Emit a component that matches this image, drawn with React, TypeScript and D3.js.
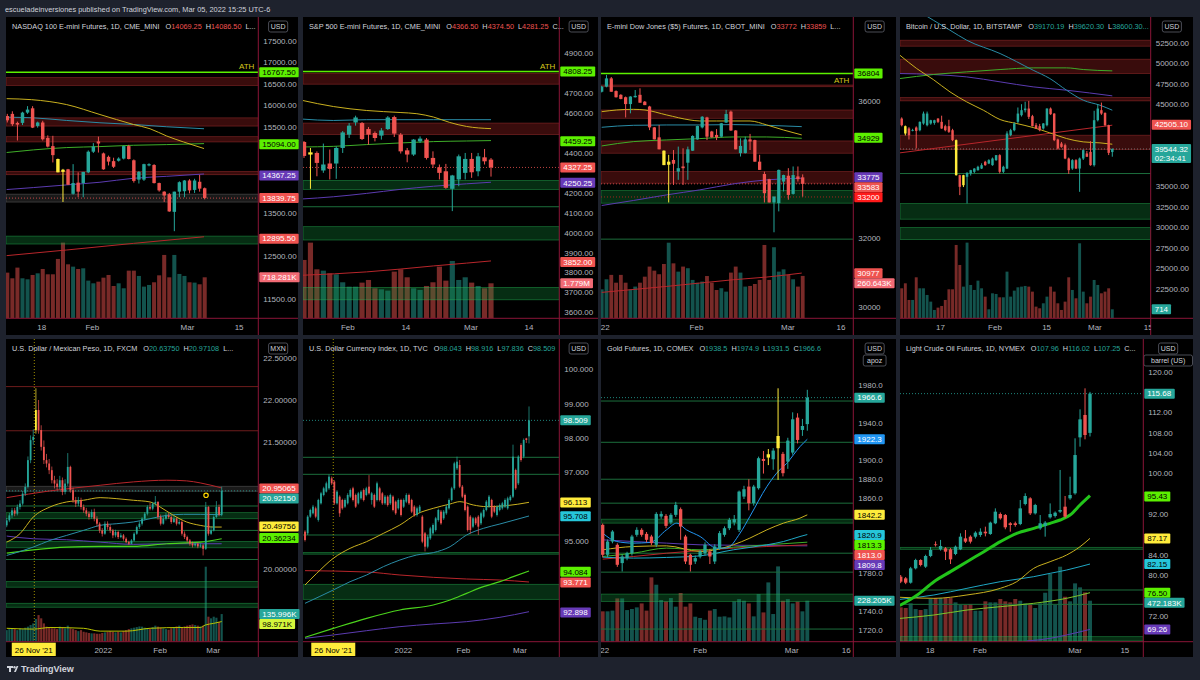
import React from 'react';
import * as d3 from 'd3';

type Candle = [number, number, number, number];
type Pt = [number, number];
type Tag = [number, string, string, string, string];

const TEAL = '#26a69a';
const RED = '#ef5350';
const HIGHLIGHT = '#ffeb3b';
const MA_Y = '#c9b01f';
const MA_T = '#2a8ca6';
const MA_G = '#3fae29';
const MA_P = '#5b3bb0';
const MA_R = '#b8262b';
const MA_B = '#2196f3';
const MA_C = '#1fa7c4';
const MA_LG = '#7cc62b';
const PAGE_BG = '#1e222d';
const AXIS_LINE = '#8a1538';

// ================= NASDAQ 100 =================
const nqCandles: Candle[] = [
  [15750, 15800, 15600, 15650], [15800, 15860, 15520, 15560], [15590, 15620, 15180, 15550], [15590, 15850, 15540, 15830],
  [15830, 15980, 15800, 15900], [15930, 15980, 15470, 15480], [15520, 15620, 15480, 15600], [15600, 15640, 15180, 15210],
  [15240, 15300, 15020, 15040], [15050, 15290, 14670, 14840], [14750, 14760, 14440, 14440], [14500, 14520, 13750, 14450],
  [14510, 14520, 14150, 14150], [13940, 14630, 13920, 14190], [14200, 14440, 13860, 13990], [14190, 14450, 13860, 14450],
  [14440, 14950, 14420, 14920], [14920, 15120, 14890, 15040], [15160, 15270, 14900, 15110], [14880, 14900, 14500, 14510],
  [14800, 14830, 14600, 14690], [14700, 14780, 14540, 14570], [14710, 14790, 14690, 14760], [14760, 15060, 14740, 15050],
  [15050, 15080, 14740, 14750], [14720, 14740, 14200, 14240], [14270, 14470, 14180, 14450], [14270, 14640, 14240, 14630],
  [14600, 14650, 14580, 14630], [14610, 14630, 14180, 14190], [14190, 14200, 13990, 14020], [13990, 14000, 13750, 13900],
  [13930, 13960, 13520, 13530], [13520, 13990, 13070, 13990], [13990, 14230, 13860, 14210], [14000, 14260, 13860, 14250],
  [14250, 14280, 13950, 14020], [14030, 14290, 13960, 14250], [14220, 14380, 13990, 14060], [14069.25, 14086.5, 13810, 13839.75],
];
const nqVolume = [800, 701, 888, 701, 683, 759, 788, 864, 771, 771, 1040, 1326, 946, 905, 864, 876, 660, 613, 642, 712,
  759, 566, 613, 526, 835, 835, 742, 555, 584, 631, 753, 1110, 718, 1110, 777, 742, 631, 625, 596, 718.281];
const nqHighlight = [10, 11];
const nqTicks = [11500, 12000, 12500, 13000, 13500, 14000, 14500, 15000, 15500, 16000, 16500, 17000, 17500, 18000];
const nqTimes: [number, string][] = [[6.8, '18'], [16.8, 'Feb'], [35.6, 'Mar'], [45.8, '15']];
const nqMaYellow: Pt[] = [[-0.13, 16154], [4.8, 16131], [11.73, 16016], [18.31, 15785], [24.9, 15554], [28.2, 15454], [31.49, 15285], [34.8, 15147], [38.87, 14993]];
const nqMaTeal: Pt[] = [[-0.13, 15723], [5.14, 15708], [11.73, 15647], [18.31, 15593], [24.9, 15554], [31.49, 15500], [38.87, 15454]];
const nqMaGreen: Pt[] = [[-0.13, 14901], [5.14, 14962], [11.73, 15016], [18.31, 15039], [24.9, 15070], [31.49, 15085], [38.87, 15108]];
const nqMaPurple: Pt[] = [[-0.13, 14039], [5.14, 14085], [11.73, 14147], [18.31, 14209], [24.9, 14301], [31.49, 14347], [38.87, 14401]];
const nqMaRed: Pt[] = [[-0.13, 12501], [11.73, 12632], [24.9, 12786], [38.87, 12940]];
const nqRedBands: Pt[] = [[16462, 16646], [15516, 15708], [15147, 15270], [14385, 14462]];
const nqGreenBands: Pt[] = [[12771, 12955]];
const nqGreyBands: Pt[] = [[13747, 13932]];
const nqTags: Tag[] = [
  [16767.5, '16767.50', 'lime', 'p', ''], [15094, '15094.00', 'lime', 'p', ''], [14367.25, '14367.25', 'purple', 'p', ''],
  [13839.75, '13839.75', 'red', 'p', ''], [12895.5, '12895.50', 'red', 'p', ''], [718.281, '718.281K', 'lightred', 'v', ''],
];
const nqHeader: [string, string][] = [['O', '14069.25'], ['H', '14086.50'], ['L...', '']];

// ================= S&P 500 =================
const esCandles: Candle[] = [
  [4455, 4460, 4375, 4385], [4403, 4425, 4220, 4392], [4400, 4408, 4283, 4350], [4312, 4447, 4300, 4342], [4347, 4417, 4267, 4320],
  [4347, 4433, 4270, 4425], [4425, 4510, 4400, 4503], [4492, 4550, 4475, 4537], [4553, 4587, 4537, 4578], [4550, 4555, 4465, 4470],
  [4520, 4530, 4442, 4492], [4500, 4508, 4458, 4475], [4487, 4525, 4467, 4513], [4520, 4585, 4515, 4578], [4580, 4587, 4480, 4497],
  [4492, 4500, 4397, 4408], [4413, 4425, 4353, 4392], [4392, 4470, 4385, 4467], [4458, 4483, 4450, 4472], [4467, 4475, 4367, 4375],
  [4375, 4408, 4325, 4342], [4328, 4342, 4267, 4300], [4308, 4345, 4220, 4225], [4220, 4290, 4108, 4287], [4267, 4392, 4233, 4383],
  [4300, 4400, 4267, 4370], [4370, 4400, 4275, 4303], [4308, 4400, 4283, 4383], [4378, 4420, 4342, 4358], [4366.5, 4374.5, 4281.25, 4327.25],
];
const esVolume = [2965, 3845, 2490, 2422, 2287, 2236, 1830, 1609, 1609, 1813, 1948, 1525, 1474, 1406, 2372, 2490, 2084, 1525, 1440, 1643,
  1830, 2626, 1914, 2914, 1948, 2084, 1813, 1643, 1525, 1779];
const esHighlight = [1];
const esTicks = [3600, 3700, 3800, 3900, 4000, 4100, 4200, 4300, 4400, 4500, 4600, 4700, 4800, 4900, 5000];
const esTimes: [number, string][] = [[6.8, 'Feb'], [15.8, '14'], [25.9, 'Mar'], [34.9, '14']];
const esMaYellow: Pt[] = [[-0.3, 4664], [4.55, 4633], [9.72, 4613], [14.9, 4603], [17.5, 4597], [20.1, 4580], [22.6, 4553], [25.2, 4533], [29, 4522]];
const esMaTeal: Pt[] = [[-0.3, 4570], [4.55, 4563], [9.72, 4567], [20.1, 4567], [29, 4567]];
const esMaGreen: Pt[] = [[-0.3, 4430], [4.55, 4433], [9.72, 4442], [14.9, 4450], [20.1, 4457], [25.2, 4460], [29, 4462]];
const esMaPurple: Pt[] = [[-0.3, 4169], [4.55, 4180], [9.72, 4197], [14.9, 4217], [20.1, 4233], [25.2, 4245], [29, 4253]];
const esMaRed: Pt[] = [[-0.3, 3786], [9.72, 3803], [14.9, 3817], [20.1, 3833], [25.2, 3847], [29, 3858]];
const esRedBands: Pt[] = [[4745, 4800], [4492, 4550]];
const esGreenBands: Pt[] = [[4217, 4262], [3963, 4030], [3663, 3725]];
const esGreenLines = [4130];
const esTags: Tag[] = [
  [4808.25, '4808.25', 'lime', 'p', ''], [4459.25, '4459.25', 'lime', 'p', ''], [4327.25, '4327.25', 'red', 'p', ''],
  [4250.25, '4250.25', 'purple', 'p', ''], [3852, '3852.00', 'red', 'p', ''], [1779, '1.779M', 'lightred', 'v', ''],
];
const esHeader: [string, string][] = [['O', '4366.50'], ['H', '4374.50'], ['L', '4281.25'], ['C...', '']];

// ================= Dow Jones =================
const ymCandles: Candle[] = [
  [36270, 36440, 36250, 36420], [36420, 36760, 36400, 36660], [36660, 36700, 36270, 36270], [36290, 36310, 36100, 36110],
  [36180, 36200, 36050, 36060], [36110, 36130, 35520, 35910], [35910, 36140, 35640, 36130], [36110, 36320, 36100, 36150],
  [36180, 36370, 35950, 35950], [35980, 36000, 35880, 35880], [35840, 35860, 35150, 35230], [35230, 35240, 34880, 34880],
  [34940, 35300, 34590, 34590], [34550, 34560, 34130, 34130], [34140, 34430, 33040, 34230], [34280, 34570, 33550, 34170],
  [33940, 34670, 33700, 34040], [34090, 34620, 33550, 34040], [34200, 34670, 33700, 34590], [34550, 35000, 34540, 34980],
  [34880, 35280, 34870, 35270], [35230, 35560, 35200, 35540], [35520, 35540, 34860, 34960], [35110, 35130, 34930, 34940],
  [35010, 35180, 34860, 34940], [34960, 35360, 34940, 35350], [35370, 35740, 35360, 35620], [35690, 35720, 35130, 35140],
  [35140, 35150, 34590, 34590], [34480, 34910, 34380, 34690], [34480, 34960, 34470, 34880], [34880, 35040, 34570, 34820],
  [34860, 34870, 34230, 34230], [34230, 34430, 33990, 33990], [33870, 33940, 33040, 33310], [33720, 33730, 33040, 33040],
  [33040, 33220, 32170, 33210], [33020, 34000, 32780, 33990], [33650, 33850, 33360, 33840], [33820, 34040, 33120, 33260],
  [33290, 34090, 33270, 33840], [33800, 34090, 33650, 33720], [33772, 33859, 33210, 33583],
];
const ymVolume = [178, 240, 267, 219, 267, 219, 178, 195, 219, 256, 318, 293, 271, 334, 465, 338, 287, 318, 308, 236,
  219, 226, 260, 219, 174, 185, 164, 281, 318, 281, 195, 199, 211, 236, 451, 236, 437, 287, 301, 267, 240, 195, 260.643];
const ymHighlight = [13, 14];
const ymTicks = [30000, 31000, 32000, 33000, 34000, 35000, 36000, 37000, 38000];
const ymTimes: [number, string][] = [[-0.2, '2022'], [19.8, 'Feb'], [38.9, 'Mar'], [50, '16']];
const ymMaYellow: Pt[] = [[0, 35689], [3.13, 35738], [6.6, 35757], [9.05, 35738], [13.6, 35592], [18.45, 35447], [20.5, 35417], [24, 35417], [31, 35417], [34.5, 35301], [37.95, 35155], [41.8, 35010]];
const ymMaTeal: Pt[] = [[0, 35233], [6.6, 35291], [13.6, 35301], [20.5, 35301], [27.5, 35311], [34.5, 35291], [41.8, 35252]];
const ymMaGreen: Pt[] = [[0, 34689], [6.6, 34815], [13.6, 34864], [20.5, 34903], [27.5, 34951], [34.5, 34951], [41.8, 34912]];
const ymMaPurple: Pt[] = [[0, 32951], [6.6, 33097], [13.6, 33262], [20.5, 33407], [27.5, 33582], [34.5, 33699], [41.8, 33747]];
const ymMaRed: Pt[] = [[0, 30417], [13.6, 30592], [20.5, 30689], [27.5, 30786], [34.5, 30864], [41.8, 30980]];
const ymRedBands: Pt[] = [[36417, 36466], [35495, 35738], [34476, 34835], [33602, 33942]];
const ymGreenBands: Pt[] = [[33019, 33388]];
const ymGreenLines = [31970];
const ymDashed = [33200];
const ymTags: Tag[] = [
  [36804, '36804', 'lime', 'p', ''], [34929, '34929', 'lime', 'p', ''], [33775, '33775', 'purple', 'p', ''],
  [33583, '33583', 'red', 'p', ''], [33200, '33200', 'brightred', 'p', ''], [30977, '30977', 'red', 'p', ''],
  [260.643, '260.643K', 'lightred', 'v', ''],
];
const ymHeader: [string, string][] = [['O', '33772'], ['H', '33859'], ['L...', '']];

// ================= Bitcoin =================
const btcCandles: Candle[] = [
  [43250, 43400, 42300, 42440], [42320, 42400, 41200, 41430], [42040, 42200, 40700, 41220], [41750, 42000, 41700, 41830],
  [42160, 42300, 39600, 41750], [41830, 42900, 41700, 42850], [42650, 44100, 42500, 43860], [42440, 44100, 42300, 43860],
  [42650, 43100, 42500, 43050], [42720, 43100, 42500, 43050], [43250, 43300, 42700, 42850], [42850, 43600, 42000, 42040],
  [42320, 42500, 41700, 41830], [42320, 43100, 41500, 41630], [41830, 42000, 40500, 40620], [40620, 40700, 36300, 36350],
  [36350, 36400, 33920, 34930], [35130, 36400, 34900, 36350], [36150, 36700, 32900, 36640], [36560, 37000, 36300, 36960],
  [36760, 37200, 36600, 37160], [36960, 37500, 36900, 37370], [37160, 37800, 37100, 37570], [37980, 38100, 37500, 37570],
  [37770, 38300, 37700, 38180], [37570, 38500, 37500, 38380], [38180, 38800, 38100, 38790], [38790, 38900, 36560, 36760],
  [36760, 37500, 36600, 37370], [37160, 41700, 37100, 41430], [41230, 42000, 41100, 41830], [41830, 42800, 41700, 42650],
  [42850, 44600, 42700, 43860], [43660, 45000, 43500, 44270], [44270, 45300, 44000, 44470], [44470, 45400, 43200, 43460],
  [43540, 43700, 42300, 42320], [42440, 42700, 42000, 42040], [42320, 42600, 41700, 41830], [42040, 42700, 41900, 42650],
  [42440, 44500, 42300, 44470], [44470, 44600, 43700, 43780], [43860, 43900, 40500, 40620], [40700, 40800, 39500, 39600],
  [40210, 40400, 39700, 39800], [40010, 40200, 38300, 38380], [38380, 38500, 36500, 36960], [37160, 38300, 37000, 38180],
  [38180, 38300, 37100, 37160], [37160, 38500, 34320, 38380], [38380, 39500, 38200, 39400], [39000, 39300, 38600, 38590],
  [39190, 40500, 37500, 37570], [37570, 44200, 37400, 43050], [43050, 45000, 42900, 44470], [44270, 45200, 43700, 43860],
  [43940, 44000, 42300, 42440], [42440, 42500, 38800, 39070], [39170.19, 39620.3, 38600.3, 39544.32],
];
const btcVolume = [2376, 2772, 1452, 1452, 3247, 2376, 2376, 1848, 1320, 660, 845, 977, 1452, 2297, 2297, 5808, 4224, 2508, 5993, 2640,
  2244, 2983, 2376, 1716, 713, 1980, 1927, 1663, 1663, 3696, 1716, 2191, 2455, 2508, 2561, 2508, 2112, 924, 792, 1188,
  1716, 2508, 2112, 1188, 660, 1320, 3247, 2244, 1584, 5940, 2112, 1188, 1716, 3036, 2640, 1980, 2112, 2376, 714];
const btcHighlight = [1, 15, 17];
const btcTicks = [20000, 22500, 25000, 27500, 30000, 32500, 35000, 37500, 40000, 42500, 45000, 47500, 50000, 52500, 55000];
const btcTimes: [number, string][] = [[10.7, '17'], [25.7, 'Feb'], [39.9, '15'], [53.2, 'Mar'], [67.9, '15']];
const btcMaYellow: Pt[] = [[-0.5, 50972], [4.13, 49347], [8.7, 48006], [13.3, 46503], [17.9, 45284], [22.5, 44269], [27.1, 43131], [31.7, 42644], [36.2, 42156], [40.8, 41506], [45.4, 40816], [50, 40409], [54.6, 40288], [58, 40125]];
const btcMaTeal: Pt[] = [[4, 56500], [8.7, 55240], [13.3, 54019], [17.9, 52800], [27.1, 51175], [36.2, 49144], [40.8, 48128], [45.4, 46706], [50, 45488], [54.6, 44878], [58, 44269]];
const btcMaGreen: Pt[] = [[-0.5, 48128], [8.7, 48616], [17.9, 48941], [27.1, 49225], [36.2, 49428], [45.4, 49428], [50, 49225], [58, 49063]];
const btcMaPurple: Pt[] = [[-0.5, 48738], [8.7, 48616], [17.9, 48331], [27.1, 47722], [36.2, 47113], [45.4, 46706], [58, 46016]];
const btcTrendRed: Pt[] = [[-0.5, 39069], [58, 42441]];
const btcRedBands: Pt[] = [[52069, 52800], [48738, 50484], [45406, 45813], [39475, 41222]];
const btcGreenBands: Pt[] = [[30984, 32894], [28506, 29969]];
const btcGreenLines = [36550];
const btcTags: Tag[] = [
  [42505.1, '42505.10', 'red', 'p', ''], [39544.32, '39544.32', 'teal', 'p', '02:34:41'], [714, '714', 'teal', 'v', ''],
];
const btcHeader: [string, string][] = [['O', '39170.19'], ['H', '39620.30'], ['L', '38600.30...']];

// ================= USD/MXN =================
const mxnCandles: Candle[] = [
  [20.512, 20.60, 20.49, 20.571], [20.571, 20.66, 20.55, 20.631], [20.631, 20.72, 20.60, 20.690], [20.690, 20.72, 20.62, 20.651],
  [20.651, 20.76, 20.63, 20.730], [20.730, 20.81, 20.70, 20.770], [20.770, 20.92, 20.75, 20.889], [20.889, 21.01, 20.86, 20.968],
  [20.968, 21.33, 20.95, 21.286], [21.286, 21.58, 21.25, 21.524], [21.524, 21.65, 21.47, 21.563], [21.643, 22.139, 21.60, 21.881],
  [21.881, 22.00, 21.60, 21.643], [21.643, 21.70, 21.40, 21.444], [21.444, 21.52, 21.24, 21.286], [21.286, 21.36, 21.20, 21.246],
  [21.246, 21.30, 21.12, 21.167], [21.167, 21.21, 21.01, 21.048], [21.048, 21.10, 20.95, 21.008], [21.008, 21.06, 20.93, 20.968],
  [20.968, 21.10, 20.94, 21.048], [21.048, 21.08, 20.87, 20.909], [20.909, 21.06, 20.88, 21.008], [21.008, 21.37, 20.98, 21.206],
  [21.206, 21.22, 20.90, 20.929], [20.929, 20.96, 20.78, 20.810], [20.810, 20.85, 20.73, 20.770], [20.770, 20.85, 20.74, 20.810],
  [20.810, 20.84, 20.70, 20.730], [20.730, 20.76, 20.66, 20.690], [20.690, 20.72, 20.62, 20.651], [20.651, 20.68, 20.58, 20.611],
  [20.611, 20.70, 20.59, 20.671], [20.671, 20.71, 20.56, 20.591], [20.591, 20.62, 20.50, 20.532], [20.532, 20.55, 20.42, 20.452],
  [20.452, 20.48, 20.38, 20.413], [20.413, 20.56, 20.40, 20.532], [20.532, 20.56, 20.46, 20.492], [20.492, 20.52, 20.42, 20.452],
  [20.452, 20.47, 20.36, 20.393], [20.393, 20.46, 20.37, 20.433], [20.433, 20.45, 20.35, 20.373], [20.373, 20.42, 20.36, 20.393],
  [20.393, 20.41, 20.33, 20.353], [20.353, 20.37, 20.30, 20.313], [20.313, 20.33, 20.28, 20.294], [20.294, 20.35, 20.29, 20.333],
  [20.333, 20.43, 20.32, 20.413], [20.413, 20.51, 20.40, 20.492], [20.492, 20.56, 20.47, 20.532], [20.532, 20.61, 20.51, 20.591],
  [20.591, 20.67, 20.57, 20.651], [20.651, 20.75, 20.63, 20.730], [20.730, 20.78, 20.69, 20.710], [20.710, 20.79, 20.69, 20.770],
  [20.770, 20.86, 20.75, 20.790], [20.790, 20.80, 20.58, 20.611], [20.611, 20.64, 20.51, 20.532], [20.532, 20.62, 20.52, 20.591],
  [20.591, 20.66, 20.57, 20.631], [20.631, 20.66, 20.59, 20.611], [20.611, 20.63, 20.53, 20.552], [20.552, 20.62, 20.54, 20.591],
  [20.591, 20.61, 20.51, 20.532], [20.532, 20.58, 20.52, 20.552], [20.552, 20.57, 20.39, 20.413], [20.413, 20.44, 20.35, 20.373],
  [20.373, 20.39, 20.31, 20.333], [20.333, 20.35, 20.27, 20.294], [20.294, 20.32, 20.25, 20.274], [20.274, 20.31, 20.26, 20.294],
  [20.294, 20.31, 20.24, 20.262], [20.262, 20.30, 20.25, 20.274], [20.274, 20.29, 20.155, 20.234], [20.234, 20.79, 20.22, 20.730],
  [20.730, 20.74, 20.39, 20.413], [20.413, 20.50, 20.40, 20.452], [20.452, 20.63, 20.44, 20.611], [20.611, 20.80, 20.60, 20.730],
  [20.730, 20.76, 20.62, 20.639], [20.6375, 20.97108, 20.62, 20.9215],
];
const mxnVolume = [57, 62, 66, 62, 57, 66, 62, 69, 74, 82, 90, 112, 131, 115, 90, 74, 69, 66, 66, 62, 74, 69, 66, 79,
  66, 62, 57, 52, 57, 49, 46, 43, 41, 41, 39, 39, 43, 46, 49, 52, 49, 46, 49, 46, 52, 57, 62, 66,
  69, 72, 75, 74, 69, 66, 62, 72, 79, 74, 69, 66, 62, 59, 66, 72, 75, 79, 72, 75, 79, 82, 85, 82, 79, 75,
  79, 369, 123, 115, 123, 118, 98, 135.996];
const mxnVolumeMa: Pt[] = [[0, 66], [10, 62], [16.3, 70], [28.9, 66], [35.2, 52], [45.2, 52], [54, 66], [66.6, 70], [72.9, 70], [74.8, 82], [77.9, 90], [81, 99]];
const mxnHighlight = [11];
const mxnTicks = [19.5, 20, 20.5, 21, 21.5, 22, 22.5];
const mxnTimes: [number, string][] = [[36.4, '2022'], [57.8, 'Feb'], [77.8, 'Mar']];
const mxnDateBox: [number, string] = [10.2, "26 Nov '21"];
const mxnMarkerIdx = 10.4;
const mxnFlag: Pt = [75.1, 20.869];
const mxnMaRed: Pt[] = [[0, 20.841], [16.3, 20.921], [35.2, 20.988], [47.7, 21.028], [60.3, 21.048], [67.8, 21.040], [72.9, 21.016], [81, 20.956]];
const mxnMaYellow: Pt[] = [[0, 20.313], [5, 20.413], [10, 20.611], [16.3, 20.730], [22.6, 20.790], [28.9, 20.810], [35.2, 20.841], [41.5, 20.829], [47.7, 20.810], [54, 20.790], [57.8, 20.730], [62.8, 20.631], [67.8, 20.552], [72.9, 20.512], [77.9, 20.492], [81, 20.492]];
const mxnMaTeal: Pt[] = [[0, 20.155], [10, 20.254], [16.3, 20.333], [22.6, 20.393], [28.9, 20.452], [35.2, 20.512], [41.5, 20.532], [47.7, 20.552], [54, 20.591], [60.3, 20.631], [66.6, 20.643], [72.9, 20.643], [81, 20.639]];
const mxnMaPurple: Pt[] = [[0, 20.385], [10, 20.353], [22.6, 20.341], [35.2, 20.313], [47.7, 20.286], [60.3, 20.294], [72.9, 20.294], [81, 20.294]];
const mxnMaGreen: Pt[] = [[0, 20.183], [10, 20.222], [22.6, 20.254], [35.2, 20.262], [47.7, 20.262], [60.3, 20.294], [72.9, 20.313], [81, 20.353]];
const mxnRedLines = [22.159, 21.635];
const mxnGreyBands: Pt[] = [[20.917, 20.976]];
const mxnGreenLines = [20.742, 20.452, 20.107];
const mxnGreenBands: Pt[] = [[20.591, 20.663], [20.246, 20.321], [19.778, 19.845], [19.540, 19.587]];
const mxnTags: Tag[] = [
  [20.95065, '20.95065', 'red', 'p', ''], [20.9215, '20.92150', 'teal', 'p', ''], [20.49756, '20.49756', 'yellow', 'p', ''],
  [20.36234, '20.36234', 'lime', 'p', ''], [135.996, '135.996K', 'teal', 'v', ''], [98.971, '98.971K', 'ygreen', 'v', ''],
];
const mxnHeader: [string, string][] = [['O', '20.63750'], ['H', '20.97108'], ['L...', '']];

// ================= DXY =================
const dxyCandles: Candle[] = [
  [95.258, 95.30, 94.97, 95.015], [95.209, 95.74, 95.16, 95.697], [95.697, 95.93, 95.66, 95.891], [95.794, 96.04, 95.76, 95.989],
  [95.940, 95.99, 95.65, 95.697], [95.599, 96.22, 95.55, 96.183], [96.086, 96.42, 96.05, 96.378], [96.329, 96.57, 96.29, 96.524],
  [96.427, 96.72, 96.40, 96.670], [96.524, 96.93, 96.48, 96.865], [96.816, 96.87, 96.62, 96.670], [96.719, 96.76, 96.04, 96.086],
  [96.086, 96.47, 96.05, 96.427], [96.281, 96.32, 95.69, 95.794], [96.183, 96.22, 95.90, 95.940], [95.989, 96.23, 95.95, 96.183],
  [96.086, 96.38, 96.05, 96.329], [96.281, 96.52, 96.24, 96.475], [96.524, 96.57, 96.14, 96.183], [96.329, 96.37, 95.95, 95.989],
  [96.086, 96.42, 96.05, 96.378], [96.232, 96.47, 96.19, 96.427], [96.475, 96.52, 96.14, 96.183], [96.329, 96.57, 96.29, 96.524],
  [96.573, 96.91, 96.34, 96.378], [96.183, 96.42, 96.05, 96.378], [96.329, 96.37, 95.95, 95.989], [96.183, 96.72, 96.14, 96.670],
  [96.524, 96.57, 96.14, 96.183], [96.378, 96.42, 96.04, 96.086], [96.086, 96.33, 96.04, 96.281], [96.281, 96.32, 95.99, 96.037],
  [96.086, 96.37, 96.04, 96.329], [96.281, 96.32, 95.85, 95.891], [96.135, 96.17, 95.75, 95.794], [95.940, 96.23, 95.90, 96.183],
  [96.183, 96.22, 95.70, 95.745], [95.989, 96.23, 95.95, 96.183], [96.135, 96.38, 96.09, 96.329], [96.329, 96.37, 96.04, 96.086],
  [96.183, 96.22, 95.80, 95.843], [95.989, 96.03, 95.70, 95.745], [95.745, 95.99, 95.70, 95.940], [95.843, 96.04, 95.80, 95.989],
  [95.697, 95.74, 94.92, 94.966], [95.209, 95.25, 94.68, 94.820], [94.820, 95.16, 94.77, 95.112], [95.063, 95.40, 95.02, 95.355],
  [95.209, 95.50, 95.17, 95.453], [95.307, 95.69, 95.26, 95.648], [95.599, 95.93, 95.55, 95.891], [95.843, 95.89, 95.46, 95.502],
  [95.648, 95.89, 95.60, 95.843], [95.794, 96.04, 95.75, 95.989], [95.940, 96.23, 95.90, 96.183], [96.183, 96.57, 96.14, 96.524],
  [96.524, 97.30, 96.48, 97.254], [97.108, 97.45, 97.06, 97.303], [97.206, 97.35, 96.53, 96.573], [96.573, 96.62, 96.24, 96.281],
  [96.329, 96.37, 95.85, 95.891], [95.989, 96.03, 95.26, 95.307], [95.697, 95.74, 95.20, 95.307], [95.404, 95.69, 95.36, 95.648],
  [95.648, 95.69, 95.45, 95.502], [95.697, 95.74, 95.16, 95.404], [95.502, 95.84, 95.45, 95.794], [95.697, 95.94, 95.65, 95.891],
  [95.891, 96.18, 95.85, 96.135], [95.989, 96.33, 95.95, 96.281], [96.183, 96.22, 95.65, 95.697], [95.989, 96.03, 95.80, 95.843],
  [95.745, 96.03, 95.70, 95.989], [95.891, 96.08, 95.85, 96.037], [95.940, 96.13, 95.90, 96.086], [95.989, 96.23, 95.95, 96.183],
  [95.940, 96.28, 95.90, 96.232], [96.183, 96.33, 96.14, 96.281], [96.281, 97.80, 96.24, 97.449], [97.060, 97.10, 96.48, 96.524],
  [96.670, 97.49, 96.62, 97.449], [97.790, 97.84, 97.30, 97.351], [97.449, 97.98, 97.40, 97.936], [97.984, 98.00, 97.85, 97.936],
  [98.043, 98.916, 97.836, 98.509],
];
const dxyTicks = [93, 94, 95, 96, 97, 98, 99, 100];
const dxyTimes: [number, string][] = [[36.9, '2022'], [59.4, 'Feb'], [80.6, 'Mar']];
const dxyDateBox: [number, string] = [10.6, "26 Nov '21"];
const dxyMarkerIdx = 10.6;
const dxyMaYellow: Pt[] = [[0, 93.700], [4.4, 94.041], [10.6, 94.479], [16.9, 94.771], [23.1, 94.966], [29.4, 95.209], [35.6, 95.453], [41.9, 95.774], [48.1, 95.940], [54.4, 96.066], [58.1, 96.135], [63.1, 96.037], [68.1, 95.989], [75.6, 96.018], [84, 96.115]];
const dxyMaTeal: Pt[] = [[0, 93.165], [10.6, 93.554], [16.9, 93.797], [23.1, 93.992], [29.4, 94.236], [35.6, 94.430], [41.9, 94.577], [48.1, 94.645], [54.4, 94.820], [60.6, 95.161], [66.9, 95.355], [73.1, 95.482], [84, 95.716]];
const dxyMaRed: Pt[] = [[0, 94.119], [23.1, 94.080], [35.6, 93.992], [48.1, 93.924], [60.6, 93.875], [73.1, 93.846], [84, 93.788]];
const dxyMaGreen: Pt[] = [[0, 92.172], [10.6, 92.434], [23.1, 92.727], [35.6, 92.970], [48.1, 93.116], [54.4, 93.262], [60.6, 93.457], [66.9, 93.651], [73.1, 93.797], [78.1, 93.944], [84, 94.109]];
const dxyMaPurple: Pt[] = [[0, 92.142], [10.6, 92.240], [23.1, 92.366], [35.6, 92.483], [48.1, 92.561], [60.6, 92.629], [73.1, 92.756], [84, 92.921]];
const dxyGreenLines = [97.430, 96.933, 95.161];
const dxyGreenBands: Pt[] = [[94.60, 94.65], [93.281, 93.720]];
const dxyTags: Tag[] = [
  [98.509, '98.509', 'teal', 'p', ''], [96.113, '96.113', 'yellow', 'p', ''], [95.708, '95.708', 'cyan', 'p', ''],
  [94.084, '94.084', 'lime', 'p', ''], [93.771, '93.771', 'red', 'p', ''], [92.898, '92.898', 'purple', 'p', ''],
];
const dxyHeader: [string, string][] = [['O', '98.043'], ['H', '98.916'], ['L', '97.836'], ['C', '98.509']];

// ================= Gold =================
const gcCandles: Candle[] = [
  [1831.6, 1833, 1797, 1799.8], [1799.8, 1816, 1797, 1813.9], [1813.9, 1826, 1812, 1824.5], [1810.4, 1812, 1787, 1789.2],
  [1791.0, 1800, 1782.1, 1798.0], [1796.3, 1803, 1794, 1801.5], [1801.5, 1821, 1799, 1819.2], [1821.0, 1829, 1819, 1826.3],
  [1826.3, 1828, 1819, 1821.0], [1822.0, 1824, 1813, 1815.7], [1819.2, 1821, 1810, 1812.2], [1810.4, 1845, 1808, 1843.2],
  [1840.4, 1846, 1838, 1843.2], [1841.1, 1843, 1828, 1830.5], [1834.1, 1844, 1832, 1842.2], [1842.2, 1856, 1840, 1852.8],
  [1848.2, 1850, 1815.7, 1829.8], [1819.2, 1821, 1790, 1792.7], [1799.8, 1801, 1782.1, 1789.2], [1792.7, 1799, 1790, 1796.3],
  [1798.0, 1805, 1796, 1803.3], [1801.5, 1813, 1799, 1810.4], [1803.3, 1806, 1790, 1798.0], [1792.7, 1811, 1790, 1808.6],
  [1806.9, 1825, 1805, 1822.8], [1821.0, 1830, 1819, 1828.0], [1828.0, 1839, 1826, 1836.9], [1834.1, 1842, 1831, 1837.6],
  [1826.3, 1868, 1824, 1866.9], [1861.6, 1873, 1859, 1869.4], [1872.2, 1880, 1847, 1854.6], [1854.6, 1874, 1852, 1872.2],
  [1870.5, 1904, 1869, 1902.3], [1901.5, 1910, 1886, 1899.4], [1903.0, 1912, 1895, 1906.5], [1901.2, 1913, 1890, 1910.4],
  [1912.9, 1976.5, 1879.3, 1925.9], [1906.9, 1909, 1883, 1886.4], [1898.7, 1924, 1891, 1921.0], [1908.3, 1951, 1906, 1943.6],
  [1945.4, 1950, 1918, 1921.7], [1932.3, 1944, 1926, 1936.5], [1938.5, 1974.9, 1931.5, 1966.6],
];
const gcVolume = [169, 169, 173, 241, 241, 176, 182, 191, 213, 173, 358, 317, 232, 224, 243, 195, 271, 195, 213, 139,
  132, 122, 173, 182, 139, 141, 135, 224, 237, 228, 213, 141, 265, 163, 330, 154, 419, 228, 237, 213, 223, 169, 228.205];
const gcHighlight = [34, 36];
const gcTicks = [1720, 1740, 1760, 1780, 1800, 1820, 1840, 1860, 1880, 1900, 1920, 1940, 1960, 1980, 2000, 2020];
const gcTimes: [number, string][] = [[-0.5, '2022'], [20, 'Feb'], [38.8, 'Mar'], [50, '16']];
const gcMaBlue: Pt[] = [[0, 1822.8], [2.87, 1813.9], [6.29, 1812.2], [9.71, 1812.9], [13.1, 1826.3], [15.2, 1833.4], [17.2, 1826.3], [20, 1819.2], [23.4, 1806.9], [25.4, 1806.9], [28.2, 1822.8], [30.2, 1840.4], [33.7, 1872.2], [35.7, 1886.4], [37.8, 1897.0], [40.5, 1914.6], [42, 1922.4]];
const gcMaYellow: Pt[] = [[0, 1805.1], [6.29, 1808.6], [13.1, 1809.3], [20, 1803.3], [26.8, 1810.4], [30.2, 1817.5], [33.7, 1826.3], [37.1, 1833.4], [40.5, 1838.7], [42, 1842.2]];
const gcMaTeal: Pt[] = [[0, 1797.3], [6.29, 1796.3], [13.1, 1797.0], [20, 1798.7], [26.8, 1805.1], [33.7, 1810.4], [37.1, 1813.9], [40.5, 1819.2], [42, 1821.3]];
const gcMaGreen: Pt[] = [[0, 1798.0], [6.29, 1801.5], [13.1, 1806.9], [20, 1805.1], [26.8, 1807.9], [33.7, 1810.4], [42, 1813.2]];
const gcMaRed: Pt[] = [[0, 1795.2], [6.29, 1798.0], [13.1, 1801.5], [20, 1804.4], [26.8, 1806.9], [33.7, 1808.6], [42, 1810.4]];
const gcMaPurple: Pt[] = [[0, 1815.7], [6.29, 1813.9], [13.1, 1812.2], [20, 1810.4], [26.8, 1810.0], [33.7, 1809.7], [42, 1809.3]];
const gcGreenLines = [1963.0, 1919.2, 1880.0, 1854.6, 1801.5, 1781.4, 1721.0];
const gcGreenBands: Pt[] = [[1833.4, 1837.6], [1750.3, 1758.1]];
const gcTags: Tag[] = [
  [1966.6, '1966.6', 'teal', 'p', ''], [1922.3, '1922.3', 'blue', 'p', ''], [1842.2, '1842.2', 'yellow', 'p', ''],
  [1820.9, '1820.9', 'cyan', 'p', ''], [1813.3, '1813.3', 'lime', 'p', ''], [1813.0, '1813.0', 'red', 'p', ''],
  [1809.8, '1809.8', 'purple', 'p', ''], [228.205, '228.205K', 'teal', 'v', ''],
];
const gcHeader: [string, string][] = [['O', '1938.5'], ['H', '1974.9'], ['L', '1931.5'], ['C', '1966.6']];

// ================= Crude Oil =================
const clCandles: Candle[] = [
  [79.67, 80.0, 78.4, 78.69], [79.34, 79.6, 78.2, 78.49], [78.49, 81.6, 78.3, 81.31], [81.31, 83.2, 81.1, 82.95],
  [82.95, 83.1, 81.7, 81.97], [81.64, 84.0, 81.4, 83.74], [83.74, 85.5, 83.5, 84.92], [86.03, 86.6, 85.6, 85.90],
  [85.05, 86.9, 84.8, 85.70], [85.25, 85.5, 82.95, 84.59], [85.05, 85.3, 82.16, 83.08], [84.13, 85.8, 83.9, 85.57],
  [85.05, 88.2, 84.9, 87.54], [87.21, 88.85, 86.3, 86.56], [87.54, 87.8, 86.2, 86.56], [87.54, 88.6, 87.2, 88.33],
  [87.87, 89.18, 87.5, 88.52], [88.52, 89.51, 87.6, 88.20], [88.07, 90.5, 87.9, 90.30], [90.17, 93.11, 90.0, 92.46],
  [92.00, 92.3, 90.9, 91.15], [91.80, 92.0, 89.0, 89.38], [90.17, 90.4, 88.52, 89.84], [90.17, 90.5, 89.5, 89.84],
  [90.03, 94.75, 89.8, 93.11], [93.97, 96.07, 93.7, 95.54], [95.08, 95.3, 91.8, 92.13], [92.13, 94.0, 91.9, 93.77],
  [89.18, 91.8, 88.9, 90.17], [89.64, 90.6, 87.54, 90.30], [91.34, 94.09, 91.1, 92.00], [91.61, 92.5, 91.3, 92.26],
  [92.46, 100.66, 92.2, 92.79], [93.44, 95.54, 91.2, 91.48], [95.08, 99.34, 94.8, 95.74], [96.07, 106.89, 95.8, 103.60],
  [107.08, 112.59, 105.25, 110.62], [111.48, 116.72, 106.69, 107.54], [107.96, 116.02, 107.25, 115.68],
];
const clVolume = [396, 388, 442, 376, 365, 376, 492, 503, 503, 503, 503, 453, 426, 426, 434, 357, 357, 465, 453, 453,
  492, 465, 453, 492, 472, 442, 434, 388, 442, 564, 780, 426, 864, 518, 465, 672, 626, 568, 472.183];
const clTicks = [68, 72, 76, 80, 84, 88, 92, 96, 100, 104, 108, 112, 116, 120, 124];
const clTimes: [number, string][] = [[5.9, '18'], [15.9, 'Feb'], [35, 'Mar'], [45, '15']];
const clMaGreen: Pt[] = [[-0.2, 74.0], [3.33, 76.07], [6.67, 78.69], [10, 80.66], [13.3, 82.62], [16.7, 84.59], [20, 86.56], [23.3, 88.20], [26.7, 89.18], [30, 90.17], [32, 90.82], [34, 91.80], [36, 93.77], [38, 95.61]];
const clMaYellow: Pt[] = [[-0.2, 75.62], [6.67, 75.41], [13.3, 76.07], [20, 77.38], [23.3, 78.69], [26.7, 81.31], [30, 82.62], [33.3, 83.93], [36, 85.57], [38, 87.21]];
const clMaCyan: Pt[] = [[-0.2, 75.2], [6.67, 76.07], [13.3, 77.38], [20, 78.69], [26.7, 79.67], [30, 80.33], [33.3, 80.98], [36, 81.64], [38, 82.16]];
const clMaLightGreen: Pt[] = [[-0.2, 71.46], [6.67, 72.13], [13.3, 73.11], [20, 73.77], [26.7, 74.43], [33.3, 75.41], [38, 76.52]];
const clMaPurple: Pt[] = [[25.3, 67.02], [30, 67.54], [33.3, 68.20], [38, 69.31]];
const clGreenLines = [77.05, 74.23];
const clGreenBands: Pt[] = [[85.05, 85.44], [67.02, 67.87]];
const clTags: Tag[] = [
  [115.68, '115.68', 'teal', 'p', ''], [95.43, '95.43', 'lime', 'p', ''], [87.17, '87.17', 'yellow', 'p', ''],
  [82.15, '82.15', 'cyan', 'p', ''], [76.5, '76.50', 'lime', 'p', ''], [472.183, '472.183K', 'teal', 'v', ''],
  [69.26, '69.26', 'purple', 'p', ''],
];
const clHeader: [string, string][] = [['O', '107.96'], ['H', '116.02'], ['L', '107.25'], ['C...', '']];

const TAG_STYLE: Record<string, [string, string]> = {
  lime: ['#5cf000', '#000'], red: ['#ef5350', '#fff'], brightred: ['#ff1a1a', '#fff'], purple: ['#673ab7', '#fff'],
  teal: ['#26a69a', '#fff'], yellow: ['#ffeb3b', '#000'], cyan: ['#26c6da', '#000'], blue: ['#2196f3', '#fff'],
  lightred: ['#f26b75', '#fff'], ygreen: ['#d4f53c', '#000'],
};

const TOP = { y0: 17, plotBottom: 318.3, y1: 335 };
const BOT = { y0: 339, plotBottom: 641.7, y1: 657 };

const panels: any[] = [
  {
    title: 'NASDAQ 100 E-mini Futures, 1D, CME_MINI', hdr: nqHeader, hdrColor: RED, box: ['USD'], ...TOP,
    x0: 6, x1: 298, axisX: 258.3, yA: [17000, 62.33, 12500, 255.67], xFirst: 7.3, xLast: 204.7, dec: 2,
    candles: nqCandles, volume: nqVolume, volPerPx: 17.52, highlight: nqHighlight, ticks: nqTicks, times: nqTimes,
    mas: [{ pts: nqMaRed, c: MA_R, w: 1 }, { pts: nqMaPurple, c: MA_P, w: 1 }, { pts: nqMaGreen, c: MA_G, w: 1 }, { pts: nqMaTeal, c: MA_T, w: 1 }, { pts: nqMaYellow, c: MA_Y, w: 1 }],
    redBands: nqRedBands, greenBands: nqGreenBands, greyBands: nqGreyBands, greenLines: [], redLines: [], dashed: [],
    ath: 16767.5, athBelow: false, last: 13839.75, lastColor: RED, tags: nqTags,
  },
  {
    title: 'S&P 500 E-mini Futures, 1D, CME_MINI', hdr: esHeader, hdrColor: RED, box: ['USD'], ...TOP,
    x0: 303, x1: 598, axisX: 559.3, yA: [4900, 53.33, 3600, 312.33], xFirst: 304, xLast: 491, dec: 2,
    candles: esCandles, volume: esVolume, volPerPx: 50.82, highlight: esHighlight, ticks: esTicks, times: esTimes,
    mas: [{ pts: esMaRed, c: MA_R, w: 1 }, { pts: esMaPurple, c: MA_P, w: 1 }, { pts: esMaGreen, c: MA_G, w: 1 }, { pts: esMaTeal, c: MA_T, w: 1 }, { pts: esMaYellow, c: MA_Y, w: 1 }],
    redBands: esRedBands, greenBands: esGreenBands, greyBands: [], greenLines: esGreenLines, redLines: [], dashed: [],
    ath: 4808.25, athBelow: false, last: 4327.25, lastColor: RED, tags: esTags,
  },
  {
    title: 'E-mini Dow Jones ($5) Futures, 1D, CBOT_MINI', hdr: ymHeader, hdrColor: RED, box: ['USD'], ...TOP,
    x0: 601, x1: 896, axisX: 853.3, yA: [36000, 101, 30000, 306.67], xFirst: 601.7, xLast: 802.7, dec: 0,
    candles: ymCandles, volume: ymVolume, volPerPx: 6.15, highlight: ymHighlight, ticks: ymTicks, times: ymTimes,
    mas: [{ pts: ymMaRed, c: MA_R, w: 1 }, { pts: ymMaPurple, c: MA_P, w: 1 }, { pts: ymMaGreen, c: MA_G, w: 1 }, { pts: ymMaTeal, c: MA_T, w: 1 }, { pts: ymMaYellow, c: MA_Y, w: 1 }],
    redBands: ymRedBands, greenBands: ymGreenBands, greyBands: [], greenLines: ymGreenLines, redLines: [], dashed: ymDashed,
    ath: 36804, athBelow: true, last: 33583, lastColor: RED, tags: ymTags,
  },
  {
    title: 'Bitcoin / U.S. Dollar, 1D, BITSTAMP', hdr: btcHeader, hdrColor: TEAL, box: ['USD'], ...TOP,
    x0: 900, x1: 1193, axisX: 1150.7, yA: [52500, 42.67, 20000, 309.33], xFirst: 901.7, xLast: 1112.3, dec: 2,
    candles: btcCandles, volume: btcVolume, volPerPx: 79.2, highlight: btcHighlight, ticks: btcTicks, times: btcTimes,
    mas: [{ pts: btcTrendRed, c: MA_R, w: 1 }, { pts: btcMaPurple, c: MA_P, w: 1 }, { pts: btcMaGreen, c: MA_G, w: 1 }, { pts: btcMaTeal, c: MA_T, w: 1 }, { pts: btcMaYellow, c: MA_Y, w: 1 }],
    redBands: btcRedBands, greenBands: btcGreenBands, greyBands: [], greenLines: btcGreenLines, redLines: [], dashed: [],
    ath: null, last: 39544.32, lastColor: '#888', tags: btcTags,
  },
  {
    title: 'U.S. Dollar / Mexican Peso, 1D, FXCM', hdr: mxnHeader, hdrColor: TEAL, box: ['MXN'], ...BOT,
    x0: 6, x1: 298, axisX: 258.3, yA: [22, 400, 20, 568.5], xFirst: 6.7, xLast: 221.7, dec: 5,
    candles: mxnCandles, volume: mxnVolume, volPerPx: 4.92, volMa: mxnVolumeMa, highlight: mxnHighlight, ticks: mxnTicks, times: mxnTimes,
    dateBox: mxnDateBox, marker: mxnMarkerIdx, flag: mxnFlag,
    mas: [{ pts: mxnMaRed, c: MA_R, w: 1 }, { pts: mxnMaPurple, c: MA_P, w: 1 }, { pts: mxnMaGreen, c: '#4bd31c', w: 1.2 }, { pts: mxnMaTeal, c: MA_T, w: 1 }, { pts: mxnMaYellow, c: MA_Y, w: 1 }],
    redBands: [], greenBands: mxnGreenBands, greyBands: mxnGreyBands, greenLines: mxnGreenLines, redLines: mxnRedLines, dashed: [],
    ath: null, last: 20.9215, lastColor: TEAL, tags: mxnTags,
  },
  {
    title: 'U.S. Dollar Currency Index, 1D, TVC', hdr: dxyHeader, hdrColor: TEAL, box: ['USD'], ...BOT,
    x0: 303, x1: 598, axisX: 559.3, yA: [100, 369.33, 95, 540.5], xFirst: 305, xLast: 529, dec: 3,
    candles: dxyCandles, volume: null, highlight: [], ticks: dxyTicks, times: dxyTimes,
    dateBox: dxyDateBox, marker: dxyMarkerIdx,
    mas: [{ pts: dxyMaPurple, c: MA_P, w: 1 }, { pts: dxyMaRed, c: MA_R, w: 1 }, { pts: dxyMaGreen, c: '#4bd31c', w: 1.2 }, { pts: dxyMaTeal, c: MA_T, w: 1 }, { pts: dxyMaYellow, c: MA_Y, w: 1 }],
    redBands: [], greenBands: dxyGreenBands, greyBands: [], greenLines: dxyGreenLines, redLines: [], dashed: [],
    ath: null, last: 98.509, lastColor: TEAL, tags: dxyTags,
  },
  {
    title: 'Gold Futures, 1D, COMEX', hdr: gcHeader, hdrColor: TEAL, box: ['USD', 'apoz'], ...BOT,
    x0: 601, x1: 896, axisX: 853.3, yA: [1980, 385, 1720, 630], xFirst: 602.7, xLast: 807.3, dec: 1,
    candles: gcCandles, volume: gcVolume, volPerPx: 5.565, highlight: gcHighlight, ticks: gcTicks, times: gcTimes,
    mas: [{ pts: gcMaPurple, c: MA_P, w: 1 }, { pts: gcMaRed, c: MA_R, w: 1 }, { pts: gcMaGreen, c: MA_G, w: 1 }, { pts: gcMaTeal, c: MA_C, w: 1 }, { pts: gcMaYellow, c: MA_Y, w: 1 }, { pts: gcMaBlue, c: MA_B, w: 1 }],
    redBands: [], greenBands: gcGreenBands, greyBands: [], greenLines: gcGreenLines, redLines: [], dashed: [],
    ath: null, last: 1966.6, lastColor: TEAL, tags: gcTags,
  },
  {
    title: 'Light Crude Oil Futures, 1D, NYMEX', hdr: clHeader, hdrColor: TEAL, box: ['USD', 'barrel (US)'], ...BOT,
    x0: 900, x1: 1193, axisX: 1143.3, yA: [120, 371.67, 72, 615.67], xFirst: 900.7, xLast: 1090, dec: 2,
    candles: clCandles, volume: clVolume, volPerPx: 11.52, highlight: [], ticks: clTicks, times: clTimes,
    mas: [{ pts: clMaPurple, c: MA_P, w: 1 }, { pts: clMaLightGreen, c: MA_LG, w: 1 }, { pts: clMaCyan, c: MA_C, w: 1 }, { pts: clMaYellow, c: MA_Y, w: 1 }, { pts: clMaGreen, c: '#22c41a', w: 3 }],
    redBands: [], greenBands: clGreenBands, greyBands: [], greenLines: clGreenLines, redLines: [], dashed: [],
    ath: null, last: 115.68, lastColor: TEAL, tags: clTags,
  },
];

function textW(s: string) {
  let w = 0;
  for (const ch of s) {
    w += /[0-9]/.test(ch) ? 4.45 : (ch === '.' || ch === ':') ? 2.22 : ch === 'K' ? 5.34 : ch === 'M' ? 6.66 : 4.45;
  }
  return w;
}

function Panel({ p, id }: { p: any; id: number }) {
  const n = p.candles.length;
  const x = d3.scaleLinear().domain([0, n - 1]).range([p.xFirst, p.xLast]);
  const y = d3.scaleLinear().domain([p.yA[0], p.yA[2]]).range([p.yA[1], p.yA[3]]);
  const v = d3.scaleLinear().domain([0, 100 * (p.volPerPx || 1)]).range([p.plotBottom, p.plotBottom - 100]);
  const step = (p.xLast - p.xFirst) / (n - 1);
  const bw = Math.max(1, step * 0.68);
  const ww = step < 3.5 ? 0.7 : 1;
  const lineP = d3.line<Pt>().x(d => x(d[0])).y(d => y(d[1])).curve(d3.curveMonotoneX);
  const lineV = d3.line<Pt>().x(d => x(d[0])).y(d => v(d[1])).curve(d3.curveMonotoneX);
  const fmt = d3.format(`.${p.dec}f`);
  const col = (c: Candle, i: number) => (p.highlight.includes(i) ? HIGHLIGHT : c[3] >= c[0] ? TEAL : RED);
  const cid = `clip${id}`;
  const tcid = `tclip${id}`;
  const L = p.x0;
  const R = p.axisX;

  const items = p.tags
    .map((t: Tag) => ({ t, want: t[3] === 'v' ? v(t[0]) : y(t[0]), h: t[4] ? 19 : 10, top: 0 }))
    .sort((a: any, b: any) => a.want - b.want);
  let prev = -1e9;
  for (const it of items) {
    let top = it.want - 5;
    if (top < prev) top = prev;
    it.top = top;
    prev = top + it.h;
  }
  // vertical spans on the price axis already taken by tags and unit boxes
  const occupied: [number, number][] = items.map((it: any) => [it.top, it.top + it.h]);
  p.box.forEach((_: string, i: number) => occupied.push([p.y0 + 4 + i * 12, p.y0 + 15 + i * 12]));
  const covered = (yy: number) =>
    occupied.some(([a, b]) => Math.min(yy + 3.5, b) - Math.max(yy - 3.5, a) > 0);

  const band = (b: Pt, k: string, fill: string, stroke: string) => (
    <rect key={k} x={L} width={R - L} y={y(b[1])} height={Math.max(1, y(b[0]) - y(b[1]))} fill={fill} stroke={stroke} strokeWidth={0.8} />
  );

  return (
    <g>
      <rect x={p.x0} y={p.y0} width={p.x1 - p.x0} height={p.y1 - p.y0} fill="#000" />
      <defs>
        <clipPath id={cid}><rect x={L} y={p.y0} width={R - L} height={p.plotBottom - p.y0} /></clipPath>
        <clipPath id={tcid}><rect x={L} y={p.plotBottom} width={R - L} height={p.y1 - p.plotBottom} /></clipPath>
      </defs>
      <g clipPath={`url(#${cid})`}>
        {p.volume && p.volume.map((vv: number, i: number) => (
          <rect key={`v${i}`} x={x(i) - step * 0.4} y={v(vv)} width={step * 0.8} height={p.plotBottom - v(vv)}
            fill={p.candles[i][3] >= p.candles[i][0] ? TEAL : RED} fillOpacity={0.5} />
        ))}
        {p.volMa && <path d={lineV(p.volMa) || ''} fill="none" stroke="#b9c400" strokeWidth={1} />}
        {p.greyBands.map((b: Pt, i: number) => band(b, `gb${i}`, 'rgba(120,120,120,0.22)', 'rgba(160,160,160,0.35)'))}
        {p.redBands.map((b: Pt, i: number) => band(b, `rb${i}`, 'rgba(190,40,40,0.30)', 'rgba(200,60,60,0.45)'))}
        {p.greenBands.map((b: Pt, i: number) => band(b, `grb${i}`, 'rgba(20,160,70,0.28)', 'rgba(40,190,90,0.5)'))}
        {p.greenLines.map((g: number, i: number) => (
          <line key={`gl${i}`} x1={L} x2={R} y1={y(g)} y2={y(g)} stroke="#1c6e3c" strokeWidth={1} />
        ))}
        {p.redLines.map((g: number, i: number) => (
          <line key={`rl${i}`} x1={L} x2={R} y1={y(g)} y2={y(g)} stroke="#6e1c1c" strokeWidth={1} />
        ))}
        {p.dashed.map((g: number, i: number) => (
          <line key={`dl${i}`} x1={L} x2={R} y1={y(g)} y2={y(g)} stroke="#c22" strokeWidth={0.8} strokeDasharray="1,2" />
        ))}
        {p.ath != null && <line x1={L} x2={R} y1={y(p.ath)} y2={y(p.ath)} stroke="#5cf000" strokeWidth={1.5} />}
        {p.ath != null && (
          <text x={R - 4} y={p.athBelow ? y(p.ath) + 10 : y(p.ath) - 3} textAnchor="end" fontSize={8} fill="#d6c81c">ATH</text>
        )}
        <line x1={L} x2={R} y1={y(p.last)} y2={y(p.last)} stroke={p.lastColor} strokeWidth={0.8} strokeDasharray="1,2" />
        {p.marker != null && (
          <line x1={x(p.marker)} x2={x(p.marker)} y1={p.y0} y2={p.plotBottom} stroke="#c8b400" strokeWidth={0.8} strokeDasharray="1,2" />
        )}
        {p.mas.map((m: any, i: number) => (
          <path key={`ma${i}`} d={lineP(m.pts) || ''} fill="none" stroke={m.c} strokeWidth={m.w} />
        ))}
        {p.candles.map((c: Candle, i: number) => {
          const cc = col(c, i);
          const top = y(Math.max(c[0], c[3]));
          const h = Math.max(0.8, Math.abs(y(c[0]) - y(c[3])));
          return (
            <g key={`c${i}`}>
              <line x1={x(i)} x2={x(i)} y1={y(c[1])} y2={y(c[2])} stroke={cc} strokeWidth={ww} />
              <rect x={x(i) - bw / 2} y={top} width={bw} height={h} fill={cc} />
            </g>
          );
        })}
        {p.flag && (
          <circle cx={x(p.flag[0])} cy={y(p.flag[1])} r={2.2} fill="none" stroke="#ffd600" strokeWidth={1.2} />
        )}
      </g>
      {p.ticks.map((t: number, i: number) => {
        const yy = y(t);
        if (yy < p.y0 + 2 || yy > p.plotBottom - 3 || covered(yy)) return null;
        return <text key={`t${i}`} x={R + 5} y={yy + 3} fontSize={8} fill="#b2b5be">{fmt(t)}</text>;
      })}
      {items.map((it: any, i: number) => {
        const [bg, fg] = TAG_STYLE[it.t[2]];
        const w = Math.max(textW(it.t[1]), it.t[4] ? textW(it.t[4]) : 0) + 6;
        return (
          <g key={`tag${i}`}>
            <rect x={R + 1} y={it.top} width={w} height={it.h} fill={bg} rx={1} />
            <text x={R + 4} y={it.top + 7.8} fontSize={8} fill={fg}>{it.t[1]}</text>
            {it.t[4] && <text x={R + 4} y={it.top + 16.8} fontSize={8} fill={fg}>{it.t[4]}</text>}
          </g>
        );
      })}
      {p.box.map((b: string, i: number) => {
        const w = b.length * 3.7 + 8;
        const cx = (R + p.x1) / 2;
        return (
          <g key={`box${i}`}>
            <rect x={cx - w / 2} y={p.y0 + 4 + i * 12} width={w} height={11} fill="#000" stroke="#5d606b" strokeWidth={0.8} rx={2} />
            <text x={cx} y={p.y0 + 12 + i * 12} fontSize={7} fill="#d1d4dc" textAnchor="middle">{b}</text>
          </g>
        );
      })}
      <line x1={R} x2={R} y1={p.y0} y2={p.y1} stroke={AXIS_LINE} strokeWidth={1} />
      <line x1={p.x0} x2={p.x1} y1={p.plotBottom} y2={p.plotBottom} stroke={AXIS_LINE} strokeWidth={1} />
      <g clipPath={`url(#${tcid})`}>
        {p.times.map((t: [number, string], i: number) => (
          <text key={`tm${i}`} x={x(t[0])} y={p.plotBottom + 11.5} fontSize={8} fill="#b2b5be" textAnchor="middle">{t[1]}</text>
        ))}
        {p.dateBox && (
          <g>
            <rect x={x(p.dateBox[0]) - 22} y={p.plotBottom + 1} width={44} height={p.y1 - p.plotBottom - 2} fill="#ffeb3b" />
            <text x={x(p.dateBox[0])} y={p.plotBottom + 11.5} fontSize={8} fill="#000" textAnchor="middle">{p.dateBox[1]}</text>
          </g>
        )}
      </g>
      <text x={p.x0 + 6} y={p.y0 + 12} fontSize={7.3} fill="#d1d4dc">
        {p.title}
        {p.hdr.map((h: [string, string], k: number) => (
          <tspan key={`h${k}`} dx={k === 0 ? 6 : 4}>
            {h[0]}
            <tspan fill={p.hdrColor}>{h[1]}</tspan>
          </tspan>
        ))}
      </text>
    </g>
  );
}

export default function App() {
  return (
    <svg width={1200} height={680} style={{ position: 'fixed', left: 0, top: 0 }} fontFamily="'Liberation Sans', Arial, sans-serif">
      <rect width={1200} height={680} fill={PAGE_BG} />
      <text x={5} y={12} fontSize={7.4} fill="#d1d4dc">escueladeinversiones published on TradingView.com, Mar 05, 2022 15:25 UTC-6</text>
      {panels.map((p, i) => <Panel key={i} p={p} id={i} />)}
      <g fill="#d1d4dc">
        <rect x={7} y={666} width={6} height={2} />
        <rect x={9} y={666} width={2} height={6} />
        <circle cx={14.5} cy={667.2} r={1.2} />
        <polygon points="14,672 16.6,666 18.4,666 15.8,672" />
        <text x={21} y={672} fontSize={9} fontWeight="bold">TradingView</text>
      </g>
    </svg>
  );
}
